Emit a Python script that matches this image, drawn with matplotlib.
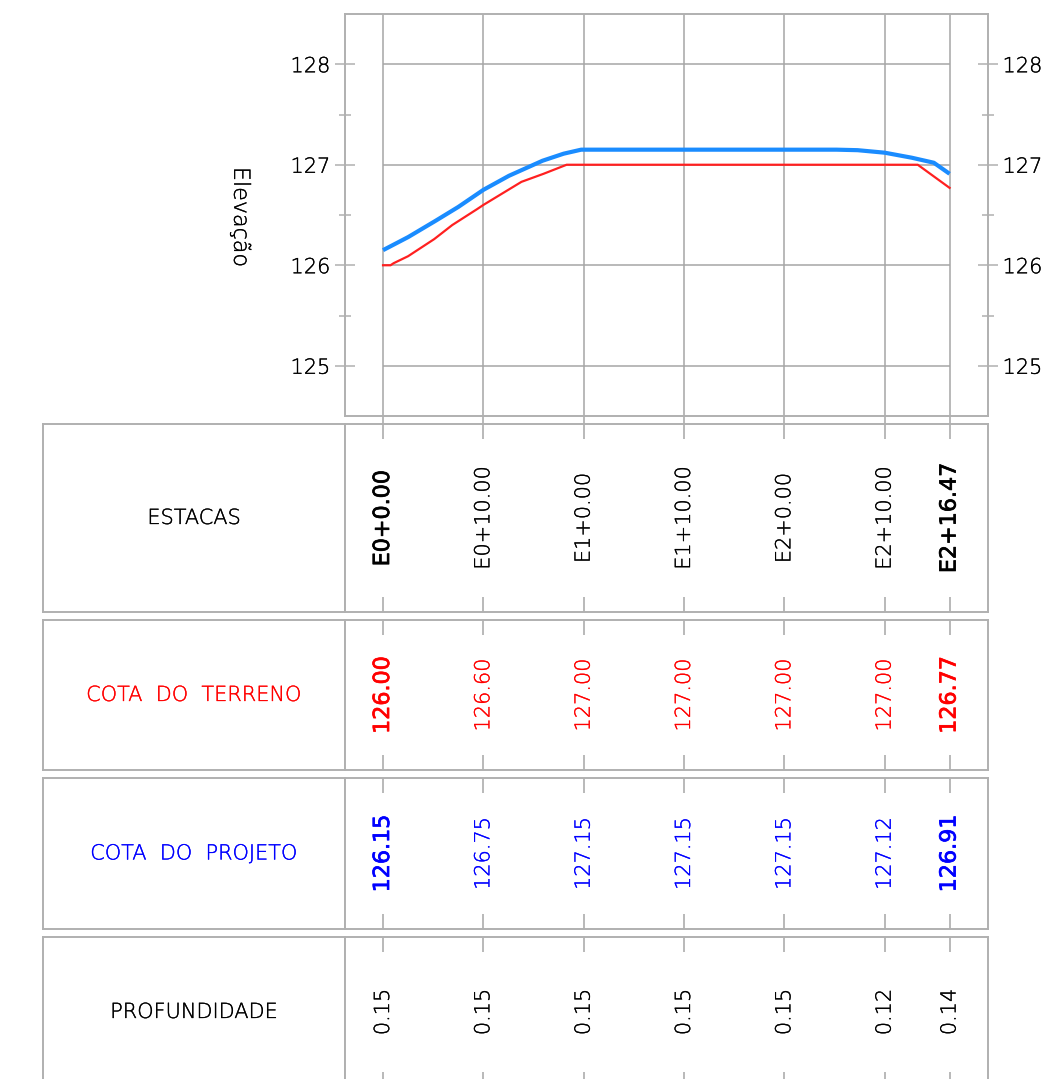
import matplotlib
matplotlib.use("Agg")
import matplotlib.pyplot as plt
from matplotlib.ticker import FixedLocator
import matplotlib.transforms as mtransforms
import matplotlib.patheffects as pe

# ---------------- data ----------------
station_pos = [0.0, 10.0, 20.0, 30.0, 40.0, 50.0, 56.47]
station_labels = ["E0+0.00", "E0+10.00", "E1+0.00", "E1+10.00", "E2+0.00", "E2+10.00", "E2+16.47"]
terreno_labels = ["126.00", "126.60", "127.00", "127.00", "127.00", "127.00", "126.77"]
projeto_labels = ["126.15", "126.75", "127.15", "127.15", "127.15", "127.12", "126.91"]
profund_labels = ["0.15", "0.15", "0.15", "0.15", "0.15", "0.12", "0.14"]

terreno_x = [0.0, 0.75, 1.05, 2.5, 5.1, 6.9, 9.4, 10.0, 13.8, 16.0, 18.3, 53.3, 56.47]
terreno_y = [126.0, 126.0, 126.02, 126.09, 126.26, 126.40, 126.56, 126.60, 126.83, 126.91, 127.0, 127.0, 126.77]

projeto_x = [0.0, 2.5, 5.2, 7.5, 10.0, 12.55, 15.9, 18.0, 19.75, 45.2, 47.3, 50.0, 52.7, 54.9, 56.47]
projeto_y = [126.15, 126.28, 126.44, 126.58, 126.75, 126.89, 127.04, 127.11, 127.15, 127.15, 127.145, 127.12, 127.07, 127.02, 126.91]

elev_major = [125, 126, 127, 128]
elev_minor = [125.5, 126.5, 127.5]

row_titles = ["ESTACAS", "COTA  DO  TERRENO", "COTA  DO  PROJETO", "PROFUNDIDADE"]
row_colors = ["black", "#ff0000", "#0000ff", "black"]

# ---------------- layout ----------------
W, H = 1044, 1079
fig = plt.figure(figsize=(W / 100, H / 100), dpi=100)
plt.rcParams['font.family'] = ['DejaVu Sans']
LIGHT = 200

def thick(color, w=0.22):
    return [pe.withStroke(linewidth=w, foreground=color)]

def fax(x0, y0, x1, y1):
    return fig.add_axes([x0 / W, 1 - y1 / H, (x1 - x0) / W, (y1 - y0) / H])

FRAME = "#b0b0b0"
GRID = "#a6a6a6"
XL = (-3.79, 60.3)
FS = 15

# main profile plot
ax = fax(345, 14, 988, 416)
ax.set_xlim(*XL)
ax.set_ylim(124.5, 128.5)
for s in ax.spines.values():
    s.set_color(FRAME)
    s.set_linewidth(1.4)
ax.set_xticks([])
ax.yaxis.set_major_locator(FixedLocator(elev_major))
ax.yaxis.set_minor_locator(FixedLocator(elev_minor))
ax.tick_params(axis='y', which='major', direction='inout', length=15, width=1.1,
               color=FRAME, left=True, right=True, labelleft=True, labelright=True,
               labelsize=FS, pad=3)
ax.tick_params(axis='y', which='minor', direction='inout', length=8, width=1.1,
               color=FRAME, left=True, right=True)
for lab in ax.get_yticklabels():
    lab.set_fontweight(LIGHT)
    lab.set_path_effects(thick('black'))

# grid
ax.hlines(elev_major, station_pos[0], station_pos[-1], color=GRID, lw=1.1, zorder=1)
trans = mtransforms.blended_transform_factory(ax.transData, ax.transAxes)
ax.vlines(station_pos, -8 / 402, 1, transform=trans, color=GRID, lw=1.1, zorder=1, clip_on=False)

ax.plot(terreno_x, terreno_y, color="#ff2020", lw=1.6, zorder=3)
ax.plot(projeto_x, projeto_y, color="#1a8cff", lw=3.0, zorder=4, solid_capstyle='butt')

ax.text(-0.163, 0.495, "Elevação", transform=ax.transAxes, rotation=270,
        ha='center', va='center', fontsize=16, color='black', fontweight=LIGHT,
        path_effects=thick('black'))

# table rows
rows = [(424, 612), (620, 770), (778, 929), (937, 1087)]
row_values = [station_labels, terreno_labels, projeto_labels, profund_labels]
for i, (y0, y1) in enumerate(rows):
    la = fax(43, y0, 345, y1)
    la.set_xticks([]); la.set_yticks([])
    la.set_xlim(0, 1); la.set_ylim(0, 1)
    for s in la.spines.values():
        s.set_color(FRAME); s.set_linewidth(1.4)
    la.text(0.5, 0.5, row_titles[i], ha='center', va='center', fontsize=FS,
            color=row_colors[i], fontweight=LIGHT, path_effects=thick(row_colors[i]))

    da = fax(345, y0, 988, y1)
    da.set_xlim(*XL); da.set_ylim(0, 1)
    da.set_xticks([]); da.set_yticks([])
    for s in da.spines.values():
        s.set_color(FRAME); s.set_linewidth(1.4)
    hpx = y1 - y0
    tl = 15 / hpx
    da.vlines(station_pos, 1 - tl, 1, color=GRID, lw=1.1)
    da.vlines(station_pos, 0, tl, color=GRID, lw=1.1)
    vals = row_values[i]
    cy = 0.5 if i < 3 else 1 - (1012 - y0) / hpx
    for j, (xp, v) in enumerate(zip(station_pos, vals)):
        bold = (j == 0 or j == len(vals) - 1) and i < 3
        if bold:
            da.text(xp, cy, v, rotation=90, ha='center', va='center', fontsize=16,
                    color=row_colors[i], fontweight='normal',
                    path_effects=thick(row_colors[i], 0.5))
        else:
            da.text(xp, cy, v, rotation=90, ha='center', va='center', fontsize=FS,
                    color=row_colors[i], fontweight=LIGHT,
                    path_effects=thick(row_colors[i]))

fig.savefig("out.png", dpi=100)
